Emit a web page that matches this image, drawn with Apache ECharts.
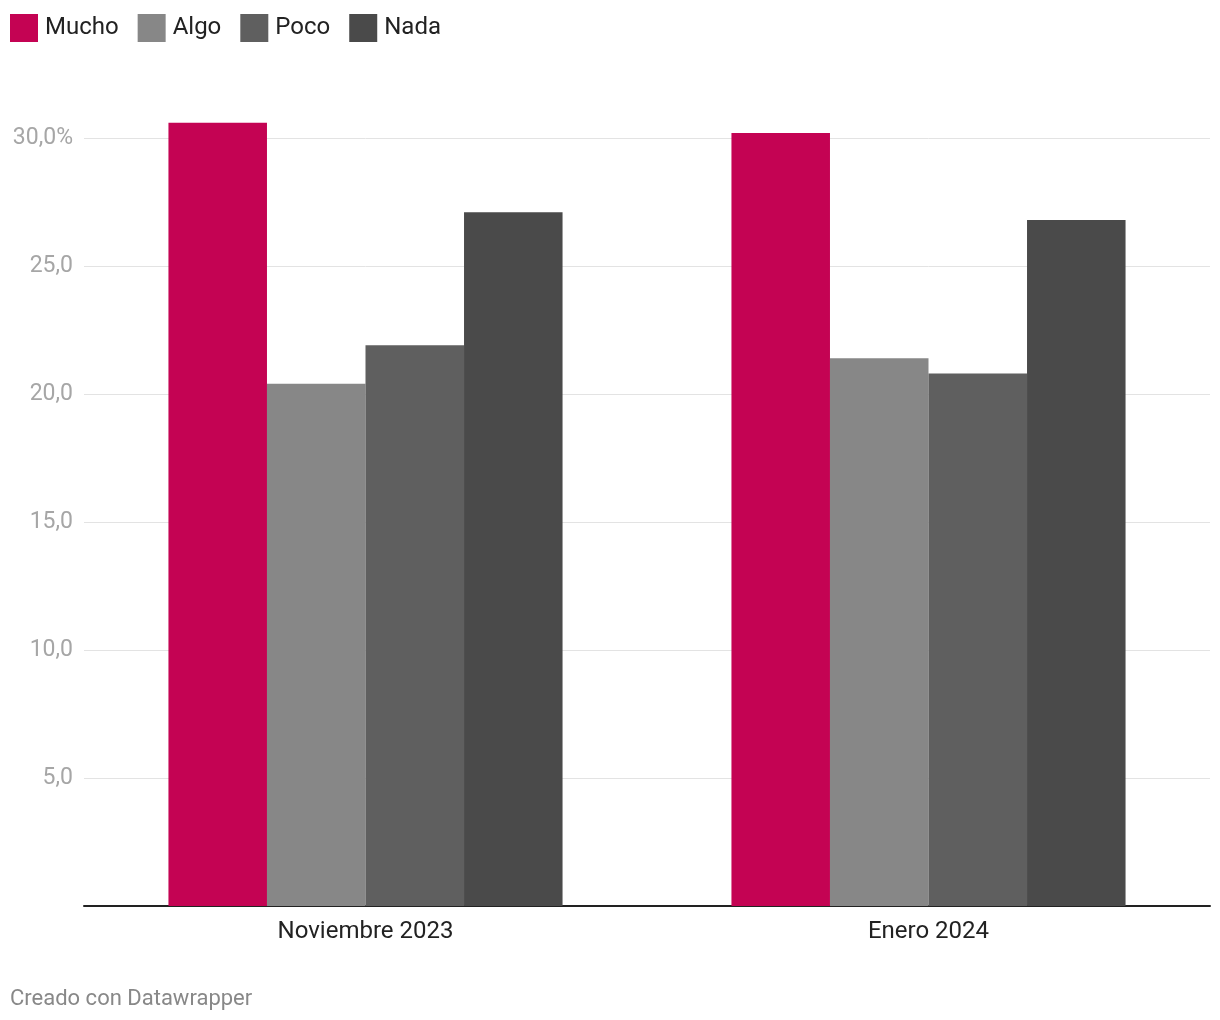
<!DOCTYPE html>
<html><head><meta charset="utf-8">
<script src="https://cdn.jsdelivr.net/npm/echarts@6/dist/echarts.min.js"></script>
<style>html,body{margin:0;padding:0;background:#fff}#c{width:1220px;height:1020px}</style>
</head><body><div id="c"></div>
<script>
const categories = ['Noviembre 2023', 'Enero 2024'];
const seriesNames = ['Mucho', 'Algo', 'Poco', 'Nada'];
const mucho = [30.6, 30.2];
const algo = [20.4, 21.4];
const poco = [21.9, 20.8];
const nada = [27.1, 26.8];
const colors = ['#c40353', '#878787', '#5f5f5f', '#4a4a4a'];
const values = [mucho, algo, poco, nada];

const chart = echarts.init(document.getElementById('c'), null, {renderer: 'canvas'});
chart.setOption({
  animation: false,
  textStyle: {fontFamily: 'Roboto'},
  legend: {
    left: 10, top: 14, padding: 0, itemWidth: 28, itemHeight: 28, itemGap: 19, icon: 'rect',
    textStyle: {fontSize: 24, color: '#222', fontFamily: 'Roboto', padding: [0,0,0,2]},
    data: seriesNames
  },
  grid: {left: 84, right: 10, top: 138, bottom: 114, containLabel: false},
  xAxis: {
    type: 'category', data: categories,
    axisLine: {lineStyle: {color: '#222', width: 2}},
    axisTick: {show: false},
    axisLabel: {fontSize: 24, color: '#222', margin: 14, fontFamily: 'Roboto'}
  },
  yAxis: {
    type: 'value', min: 0, max: 30, interval: 5,
    axisLine: {show: false}, axisTick: {show: false},
    splitLine: {lineStyle: {color: '#e3e3e3', width: 1}},
    axisLabel: {
      fontSize: 23, color: '#a6a6a6', margin: 11, fontFamily: 'Roboto', padding: [4, 0, 0, 0],
      formatter: v => v === 0 ? '' : (v.toFixed(1).replace('.', ',') + (v === 30 ? '%' : ''))
    }
  },
  series: seriesNames.map((n, i) => ({
    name: n, type: 'bar', data: values[i], clip: false,
    barGap: '0%', barCategoryGap: '30%',
    itemStyle: {color: colors[i]}
  })),
  graphic: [{
    type: 'text', left: 10, top: 988,
    style: {text: 'Creado con Datawrapper', fontSize: 22, fill: '#888', fontFamily: 'Roboto'}
  }]
});
</script></body></html>
